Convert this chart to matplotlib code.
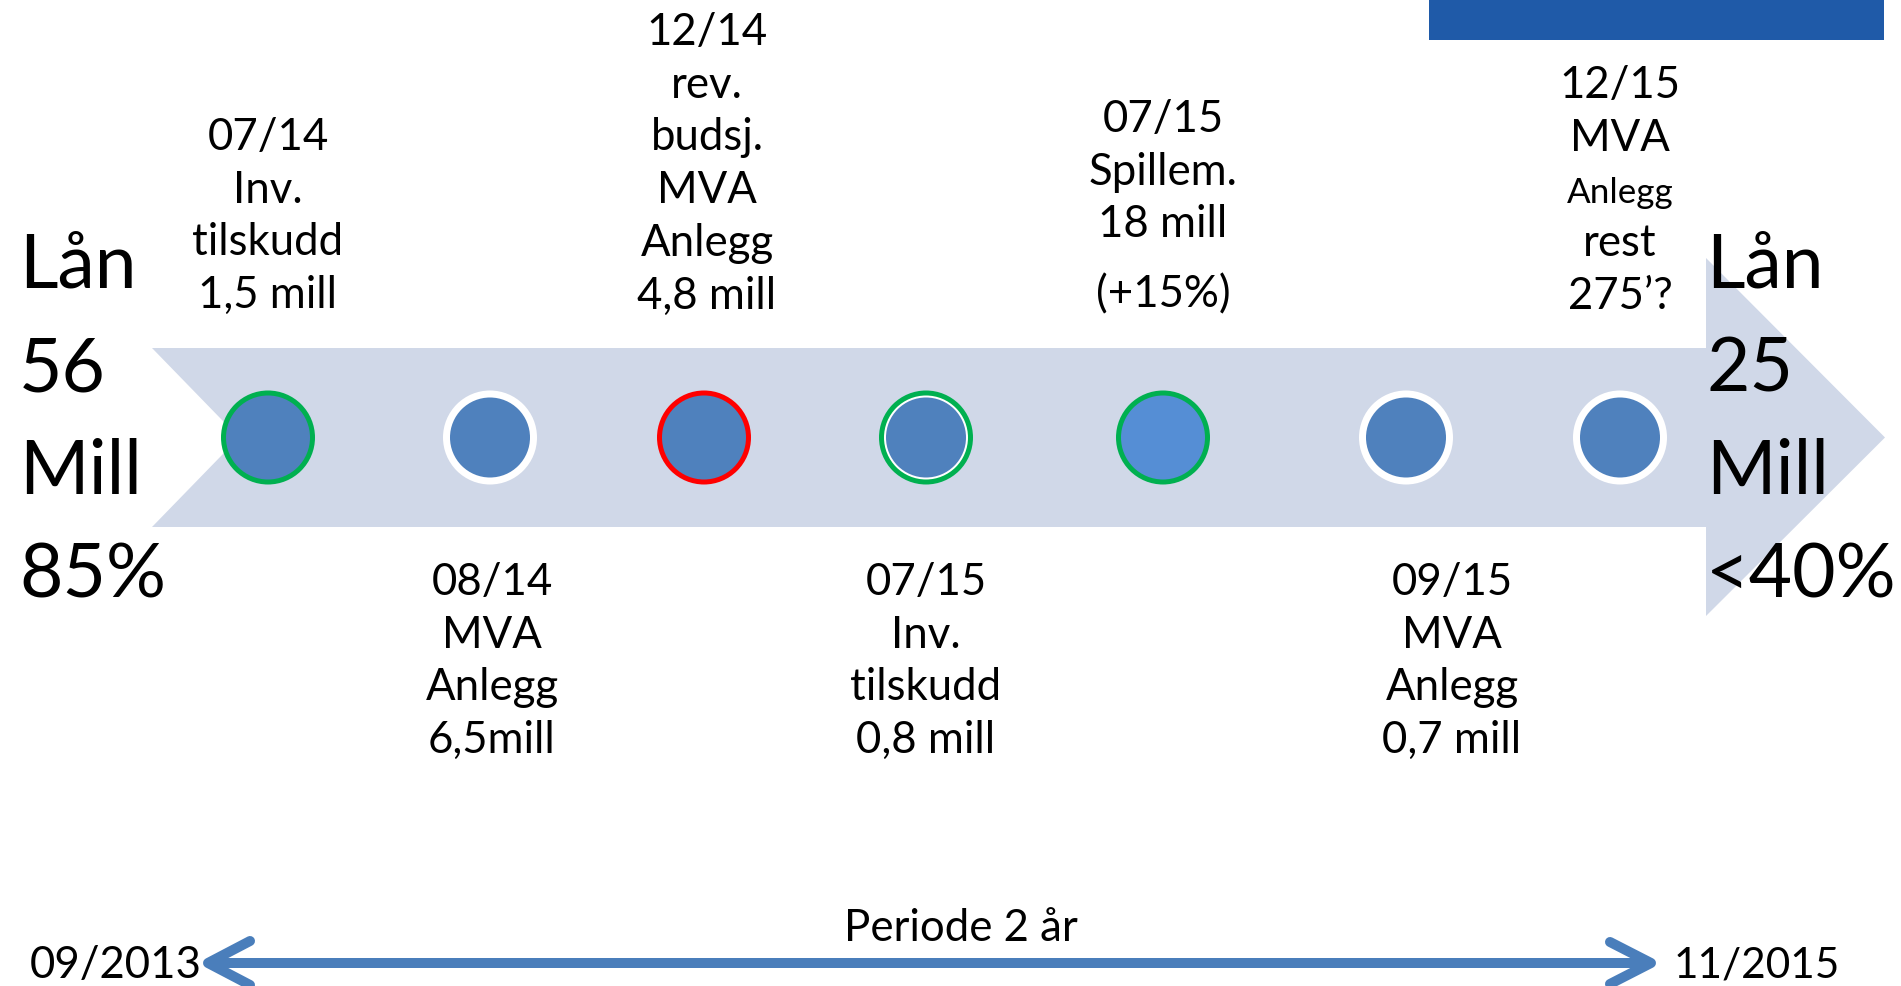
import matplotlib.pyplot as plt
from matplotlib.patches import Polygon, Circle, Rectangle

plt.rcParams['font.family'] = ['Lato', 'DejaVu Sans']

# milestones along the timeline
top_labels = [
    ["07/14", "Inv.", "tilskudd", "1,5 mill"],
    ["12/14", "rev.", "budsj.", "MVA", "Anlegg", "4,8 mill"],
    ["07/15", "Spillem.", "18 mill"],
    ["12/15", "MVA", "Anlegg", "rest", "275\u2019?"],
]
top_extra = "(+15%)"
bottom_labels = [
    ["08/14", "MVA", "Anlegg", "6,5mill"],
    ["07/15", "Inv.", "tilskudd", "0,8 mill"],
    ["09/15", "MVA", "Anlegg", "0,7 mill"],
]
ring = ["green", "white", "red", "green", "green", "white", "white"]
inner_white = [False, False, False, True, False, False, False]
fill = ["#4F81BD", "#4F81BD", "#4F81BD", "#4F81BD", "#558ED5", "#4F81BD", "#4F81BD"]
left_side = ["Lån", "56", "Mill", "85%"]
right_side = ["Lån", "25", "Mill", "<40%"]
period = "Periode 2 år"
start_date, end_date = "09/2013", "11/2015"

# layout (pixel coords)
W, H = 1901, 986
circle_x = [268, 490, 704, 926, 1163, 1406, 1620]
cy = 437.5
top_x = [268, 707, 1163, 1620]
top_y0 = [150, 45, 132, 98]
bottom_x = [492, 926, 1452]
step = 52.7
fs = 31.5

ring_col = {"green": "#00B050", "white": "white", "red": "#FF0000"}

fig = plt.figure(figsize=(W / 100, H / 100), dpi=100)
ax = fig.add_axes([0, 0, 1, 1])
ax.set_xlim(0, W)
ax.set_ylim(H, 0)
ax.axis("off")

# big arrow
arrow = [(152, 348), (1706, 348), (1706, 258), (1885, cy), (1706, 616),
         (1706, 527), (152, 527), (239, cy)]
ax.add_patch(Polygon(arrow, closed=True, facecolor="#D0D8E8", edgecolor="none"))

# milestone circles
for x, rc, iw, fc in zip(circle_x, ring, inner_white, fill):
    w = 5 if rc != "white" else 7
    ax.add_patch(Circle((x, cy), 47, facecolor=ring_col[rc], edgecolor="none"))
    r = 47 - w
    if iw:
        ax.add_patch(Circle((x, cy), r, facecolor="white", edgecolor="none"))
        r -= 2
    ax.add_patch(Circle((x, cy), r, facecolor=fc, edgecolor="none"))


def stack(x, y0, lines, size, dy, ha="center", sizes=None):
    for i, line in enumerate(lines):
        s = sizes[i] if sizes else size
        ax.text(x, y0 + i * dy, line, ha=ha, va="baseline", fontsize=s, color="black")


for i, (x, y0, lines) in enumerate(zip(top_x, top_y0, top_labels)):
    sizes = None
    if i == 3:
        sizes = [fs, fs, fs * 0.8, fs, fs]
    stack(x, y0, lines, fs, step, sizes=sizes)
ax.text(top_x[2], 307, top_extra, ha="center", va="baseline", fontsize=fs)

for x, lines in zip(bottom_x, bottom_labels):
    stack(x, 595, lines, fs, step)

stack(19, 288, left_side, 54, 103, ha="left")
stack(1706, 288, right_side, 54, 103, ha="left")

# period arrow
blue = "#4A7EBB"
ax.plot([210, 1648], [963, 963], color=blue, lw=7.2, solid_capstyle="butt")
ax.plot([250, 208, 250], [941, 963, 985], color=blue, lw=7.2,
        solid_capstyle="round", solid_joinstyle="round")
ax.plot([1610, 1651, 1610], [942, 963, 984], color=blue, lw=7.2,
        solid_capstyle="round", solid_joinstyle="round")
ax.text(961, 941, period, ha="center", va="baseline", fontsize=fs)
ax.text(30, 978, start_date, ha="left", va="baseline", fontsize=fs)
ax.text(1674, 978, end_date, ha="left", va="baseline", fontsize=fs * 0.97)

# header bar (top right)
ax.add_patch(Rectangle((1429, 0), 455, 40, facecolor="#1F5AA8", edgecolor="none"))

fig.savefig("out.png", dpi=100)
